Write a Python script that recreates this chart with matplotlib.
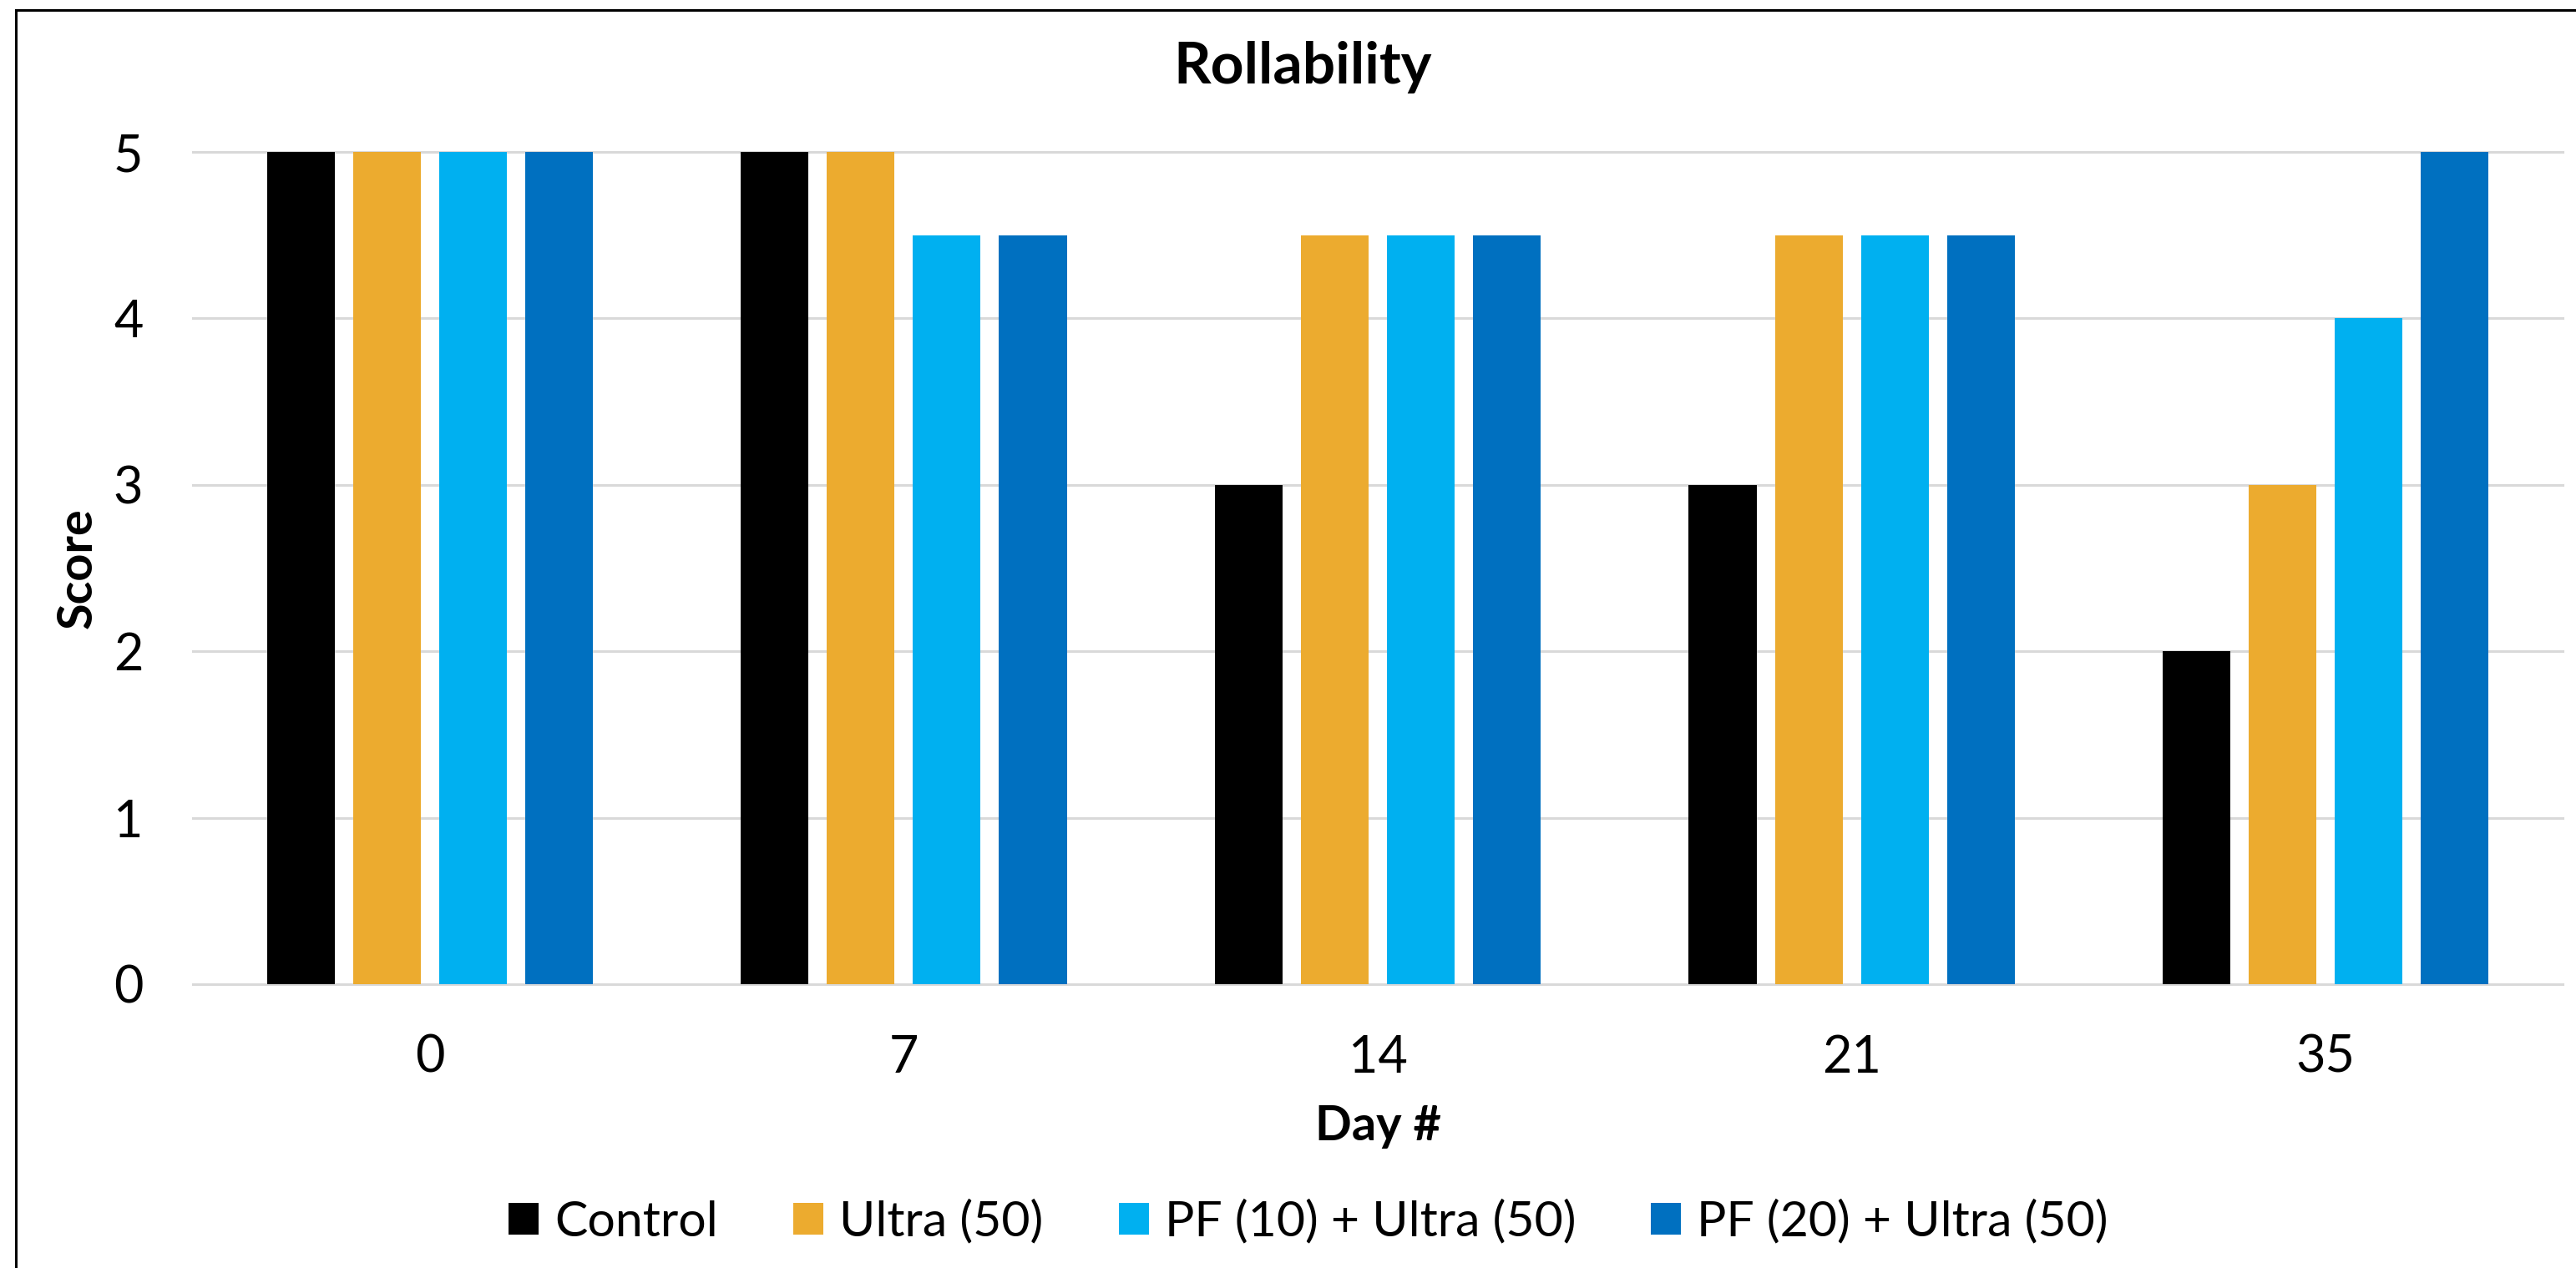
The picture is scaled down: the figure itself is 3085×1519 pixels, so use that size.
import numpy as np
import matplotlib
matplotlib.use("Agg")
import matplotlib.pyplot as plt
from matplotlib.lines import Line2D

plt.rcParams['font.family'] = ['Lato', 'DejaVu Sans']

days = ['0', '7', '14', '21', '35']
series = ['Control', 'Ultra (50)', 'PF (10) + Ultra (50)', 'PF (20) + Ultra (50)']
control = [5, 5, 3, 3, 2]
ultra = [5, 5, 4.5, 4.5, 3]
pf10_ultra = [5, 4.5, 4.5, 4.5, 4]
pf20_ultra = [5, 4.5, 4.5, 4.5, 5]
colors = ['#000000', '#ECAB2F', '#00B0F0', '#0070C0']

W, H = 3085, 1519
fig = plt.figure(figsize=(W / 100, H / 100), dpi=100)
ax = fig.add_axes([231 / W, 1 - 1179 / H, 2838 / W, 997 / H])

x = np.arange(len(days))
bar_w = 0.143
step = 0.1815
for i, (name, vals) in enumerate(zip(series, [control, ultra, pf10_ultra, pf20_ultra])):
    ax.bar(x + (i - 1.5) * step, vals, width=bar_w, color=colors[i], label=name, zorder=2)

ax.set_xlim(-0.5, len(days) - 0.5)
ax.set_ylim(0, 5)
yticks = [0, 1, 2, 3, 4, 5]
for t in yticks:
    ax.axhline(t, color='#D9D9D9', lw=2.2, zorder=1, clip_on=False)
ax.set_yticks(yticks)
ax.set_xticks(x)
ax.set_xticklabels(days)
for s in ax.spines.values():
    s.set_visible(False)
ax.tick_params(axis='both', length=0, labelsize=44)
ax.tick_params(axis='y', pad=43)
ax.tick_params(axis='x', pad=43)

ax.set_xlabel('Day #', fontsize=41.5, fontweight='bold')
ax.xaxis.set_label_coords(0.5, -0.1715)
ax.xaxis.label.set_va('center')
ax.set_ylabel('Score', fontsize=41.5, fontweight='bold')
ax.yaxis.set_label_coords(-0.0486, 0.5)
ax.yaxis.label.set_va('center')

fig.text(1560 / W, 1 - 81 / H, 'Rollability', fontsize=50, fontweight='bold',
         ha='center', va='center')

fig.legend(loc='center', bbox_to_anchor=(1567 / W, 1 - 1464 / H), ncol=4,
           frameon=False, fontsize=42.5, handlelength=0.61, handleheight=0.61,
           handletextpad=0.32, columnspacing=1.53)

# chart border (runs off the right and bottom edges)
fig.add_artist(Line2D([19 / W, 19 / W], [0, 1 - 12 / H], color='black', lw=2.2,
                      transform=fig.transFigure))
fig.add_artist(Line2D([19 / W, 1], [1 - 12 / H, 1 - 12 / H], color='black', lw=2.2,
                      transform=fig.transFigure))

fig.savefig('out.png', dpi=100, facecolor='white')
